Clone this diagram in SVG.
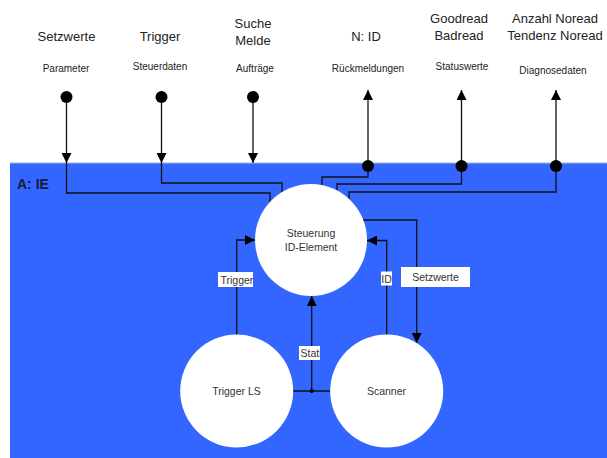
<svg xmlns="http://www.w3.org/2000/svg" width="607" height="458" viewBox="0 0 607 458">
  <style>
    .big { font-family: "Liberation Sans", Arial, sans-serif; font-size: 13px; fill: #222; text-anchor: middle; }
    .small { font-family: "Liberation Sans", Arial, sans-serif; font-size: 10px; fill: #222; text-anchor: middle; }
    .node { fill: #ffffff; }
    .nt { font-family: "Liberation Sans", Arial, sans-serif; font-size: 10.5px; fill: #333; text-anchor: middle; }
    .wire { fill: none; stroke: #111; stroke-width: 1.3; }
    .tag { fill: #ffffff; }
    .dot { fill: #000; }
  </style>
  <defs>
    <marker id="arrow" viewBox="0 0 10 10" refX="10" refY="5" markerWidth="10" markerHeight="10" markerUnits="userSpaceOnUse" orient="auto">
      <path d="M0,0 L10,5 L0,10 Z" fill="#000"/>
    </marker>
    <clipPath id="clipTrigger"><rect x="218" y="272" width="35" height="15"/></clipPath>
    <clipPath id="clipStati"><rect x="299" y="346" width="21" height="14"/></clipPath>
  </defs>

  <rect x="0" y="0" width="607" height="458" fill="#ffffff"/>

  <!-- system boundary A: IE -->
  <g id="system">
    <rect x="10" y="163" width="597" height="295" fill="#3366ff"/>
    <line x1="10" y1="163" x2="607" y2="163" stroke="#9fb3e6" stroke-width="1"/>
    <text x="17" y="189" font-family="Liberation Sans, Arial, sans-serif" font-size="14" font-weight="bold" fill="#1a1a3a">A: IE</text>
  </g>

  <!-- external interface labels -->
  <g id="labels">
    <text class="big" x="66.5" y="41">Setzwerte</text>
    <text class="small" x="66" y="72">Parameter</text>
    <text class="big" x="160" y="41">Trigger</text>
    <text class="small" x="160" y="70">Steuerdaten</text>
    <text class="big" x="253" y="28">Suche</text>
    <text class="big" x="253" y="45">Melde</text>
    <text class="small" x="255" y="72">Aufträge</text>
    <text class="big" x="366" y="41">N: ID</text>
    <text class="small" x="368" y="72">Rückmeldungen</text>
    <text class="big" x="459" y="23">Goodread</text>
    <text class="big" x="459" y="40">Badread</text>
    <text class="small" x="462" y="70">Statuswerte</text>
    <text class="big" x="555" y="23">Anzahl Noread</text>
    <text class="big" x="555" y="40">Tendenz Noread</text>
    <text class="small" x="553" y="74">Diagnosedaten</text>
  </g>

  <!-- connectors -->
  <g id="connectors">
    <!-- inputs from outside -->
    <line class="wire" x1="66.5" y1="97" x2="66.5" y2="163" marker-end="url(#arrow)"/>
    <path class="wire" d="M66.5,163 V193 H270 V202"/>
    <line class="wire" x1="161.5" y1="97" x2="161.5" y2="163" marker-end="url(#arrow)"/>
    <path class="wire" d="M161.5,163 V183 H282 V192"/>
    <line class="wire" x1="253" y1="97" x2="253" y2="163" marker-end="url(#arrow)"/>

    <!-- outputs to outside -->
    <path class="wire" d="M322,185 V177 H368 V90" marker-end="url(#arrow)"/>
    <path class="wire" d="M337,190 V184 H461.5 V90" marker-end="url(#arrow)"/>
    <path class="wire" d="M349,199 V192 H556 V90" marker-end="url(#arrow)"/>

    <!-- internal flows -->
    <path class="wire" d="M236.7,335 V240 H255" marker-end="url(#arrow)"/>
    <path class="wire" d="M386.7,335 V240.5 H367" marker-end="url(#arrow)"/>
    <path class="wire" d="M363,220 H416.7 V343" marker-end="url(#arrow)"/>
    <line class="wire" x1="293" y1="391" x2="330" y2="391"/>
    <line class="wire" x1="311.7" y1="391" x2="311.7" y2="296" marker-end="url(#arrow)"/>

    <!-- junction dots -->
    <circle class="dot" cx="66.5" cy="97" r="6"/>
    <circle class="dot" cx="161.5" cy="97" r="6"/>
    <circle class="dot" cx="253" cy="97" r="6"/>
    <circle class="dot" cx="368" cy="166" r="6"/>
    <circle class="dot" cx="461.5" cy="166" r="6"/>
    <circle class="dot" cx="556" cy="166" r="6"/>
    <circle class="dot" cx="311.7" cy="391" r="2"/>

    <!-- flow labels -->
    <rect class="tag" x="218" y="272" width="35" height="15"/>
    <text class="nt" x="220.5" y="283.5" clip-path="url(#clipTrigger)" style="text-anchor:start">Trigger</text>
    <rect class="tag" x="381" y="271.5" width="11" height="14"/>
    <text class="nt" x="386.5" y="282.5">ID</text>
    <rect class="tag" x="401" y="267" width="69" height="20"/>
    <text class="nt" x="435.5" y="281">Setzwerte</text>
    <rect class="tag" x="299" y="346" width="21" height="14"/>
    <text class="nt" x="300.5" y="357" clip-path="url(#clipStati)" style="text-anchor:start">Stati</text>
  </g>

  <!-- nodes -->
  <g id="steuerung">
    <circle class="node" cx="311" cy="240" r="56"/>
    <text class="nt" x="311" y="237">Steuerung</text>
    <text class="nt" x="311" y="251">ID-Element</text>
  </g>
  <g id="trigger-ls">
    <circle class="node" cx="236.7" cy="391" r="56.5"/>
    <text class="nt" x="236.5" y="395">Trigger LS</text>
  </g>
  <g id="scanner">
    <circle class="node" cx="386.7" cy="391" r="56.5"/>
    <text class="nt" x="386.5" y="395">Scanner</text>
  </g>
</svg>
